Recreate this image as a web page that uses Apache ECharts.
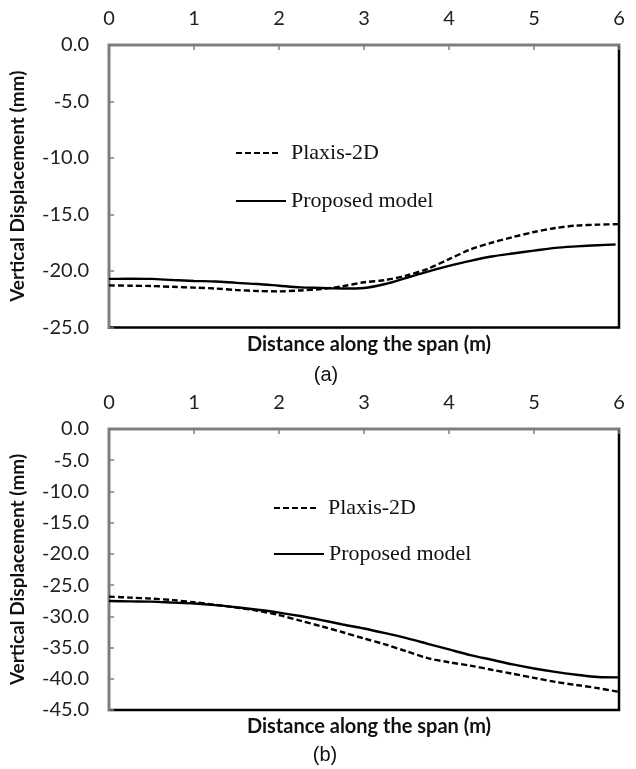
<!DOCTYPE html>
<html>
<head>
<meta charset="utf-8">
<script src="https://cdn.jsdelivr.net/npm/echarts@6/dist/echarts.min.js"></script>
<style>
  html, body { margin: 0; padding: 0; background: #fff; }
  #main { width: 636px; height: 769px; }
</style>
</head>
<body>
<div id="main"></div>
<script>
// distance along the span (m)
const distance = [0, 0.25, 0.5, 0.75, 1, 1.25, 1.5, 1.75, 2, 2.25, 2.5, 2.75, 3,
  3.25, 3.5, 3.75, 4, 4.25, 4.5, 4.75, 5, 5.25, 5.5, 5.75, 6];
const distanceModelA = [0, 0.25, 0.5, 0.75, 1, 1.25, 1.5, 1.75, 2, 2.25, 2.5, 2.75, 3,
  3.25, 3.5, 3.75, 4, 4.25, 4.5, 4.75, 5, 5.25, 5.5, 5.75, 5.96];

// (a) vertical displacement (mm)
const plaxisA = [-21.27, -21.3, -21.33, -21.4, -21.47, -21.55, -21.68, -21.77, -21.8, -21.72,
  -21.6, -21.35, -21.0, -20.8, -20.4, -19.8, -18.95, -18.1, -17.5, -17.0, -16.55, -16.2,
  -15.98, -15.9, -15.85];
const modelA = [-20.7, -20.68, -20.7, -20.8, -20.88, -20.93, -21.05, -21.15, -21.3, -21.45,
  -21.5, -21.55, -21.5, -21.15, -20.6, -20.05, -19.55, -19.1, -18.72, -18.45, -18.2, -17.95,
  -17.82, -17.72, -17.65];

// (b) vertical displacement (mm)
const plaxisB = [-26.85, -27.0, -27.17, -27.4, -27.75, -28.15, -28.6, -29.1, -29.8, -30.7,
  -31.6, -32.55, -33.55, -34.5, -35.6, -36.7, -37.35, -37.9, -38.55, -39.2, -39.85, -40.5,
  -41.0, -41.5, -42.1];
const modelB = [-27.54, -27.6, -27.65, -27.8, -27.95, -28.2, -28.55, -28.95, -29.4, -29.95,
  -30.6, -31.3, -31.95, -32.7, -33.5, -34.4, -35.3, -36.2, -36.95, -37.7, -38.35, -38.9,
  -39.35, -39.72, -39.77];

const xTicks = [0, 1, 2, 3, 4, 5, 6];
const yRangeA = [-25, 0];
const yRangeB = [-45, 0];

const pairs = (xs, ys) => xs.map((x, i) => [x, ys[i]]);

const axisGray = '#7f7f7f';

function xAxisFor(gridIndex) {
  return {
    gridIndex: gridIndex,
    type: 'value',
    position: 'top',
    min: xTicks[0],
    max: xTicks[xTicks.length - 1],
    interval: 1,
    axisLine: { show: true, lineStyle: { color: axisGray, width: 2 } },
    axisTick: { show: true, inside: true, length: 5, lineStyle: { color: axisGray, width: 1.5 } },
    axisLabel: { margin: 16, color: '#222', fontSize: 20, fontFamily: 'Lato' },
    splitLine: { show: false }
  };
}

function yAxisFor(gridIndex, range) {
  return {
    gridIndex: gridIndex,
    type: 'value',
    min: range[0],
    max: range[1],
    interval: 5,
    name: 'Vertical Displacement (mm)',
    nameLocation: 'middle',
    nameGap: 82,
    nameTextStyle: { color: '#111', fontSize: 19, fontWeight: 'bold', fontFamily: 'Lato' },
    axisLine: { show: true, lineStyle: { color: axisGray, width: 2 } },
    axisTick: { show: true, inside: true, length: 5, lineStyle: { color: axisGray, width: 1.5 } },
    axisLabel: { margin: 20, color: '#222', fontSize: 20, fontFamily: 'Lato',
      formatter: v => v.toFixed(1) },
    splitLine: { show: false }
  };
}

function lineSeries(name, gridIndex, data, dashed) {
  return {
    name: name,
    type: 'line',
    xAxisIndex: gridIndex,
    yAxisIndex: gridIndex,
    data: data,
    smooth: 0.3,
    symbol: 'none',
    lineStyle: { color: '#000', width: 2.4, type: dashed ? [6, 3] : 'solid' },
    itemStyle: { color: '#000' },
    z: 3
  };
}

function legendFor(name, left, top, width, gap) {
  return {
    data: [name],
    left: left,
    top: top,
    padding: 0,
    itemWidth: width,
    itemHeight: 14,
    selectedMode: false,
    itemStyle: { opacity: 0 },
    textStyle: { color: '#111', fontSize: 22, fontFamily: 'Liberation Serif',
      lineHeight: 22, padding: [0, 0, 0, gap] }
  };
}

const chart = echarts.init(document.getElementById('main'));

chart.setOption({
  backgroundColor: '#fff',
  animation: false,
  grid: [
    { left: 107, width: 512, top: 45, height: 282.5, show: true,
      borderColor: '#000', borderWidth: 2.5, backgroundColor: 'transparent' },
    { left: 107, width: 512, top: 429, height: 281, show: true,
      borderColor: '#000', borderWidth: 2.5, backgroundColor: 'transparent' }
  ],
  xAxis: [xAxisFor(0), xAxisFor(1)],
  yAxis: [yAxisFor(0, yRangeA), yAxisFor(1, yRangeB)],
  legend: [
    legendFor('Plaxis-2D', 235, 142, 43, 7),
    legendFor('Proposed model', 235, 190, 50, 0),
    legendFor('Plaxis-2D', 273, 497, 45, 4),
    legendFor('Proposed model', 273, 543, 50, 0)
  ],
  series: [
    lineSeries('Plaxis-2D', 0, pairs(distance, plaxisA), true),
    lineSeries('Proposed model', 0, pairs(distanceModelA, modelA), false),
    lineSeries('Plaxis-2D', 1, pairs(distance, plaxisB), true),
    lineSeries('Proposed model', 1, pairs(distance, modelB), false)
  ],
  graphic: [
    { type: 'text', x: 369, y: 345, style: { text: 'Distance along the span (m)',
      textAlign: 'center', textVerticalAlign: 'middle', fill: '#111',
      font: 'bold 20px Lato' } },
    { type: 'text', x: 326, y: 375, style: { text: '(a)', textAlign: 'center',
      textVerticalAlign: 'middle', fill: '#111', font: '20px "Liberation Sans"' } },
    { type: 'text', x: 369, y: 727, style: { text: 'Distance along the span (m)',
      textAlign: 'center', textVerticalAlign: 'middle', fill: '#111',
      font: 'bold 20px Lato' } },
    { type: 'text', x: 325, y: 755, style: { text: '(b)', textAlign: 'center',
      textVerticalAlign: 'middle', fill: '#111', font: '20px "Liberation Sans"' } }
  ]
});
</script>
</body>
</html>
